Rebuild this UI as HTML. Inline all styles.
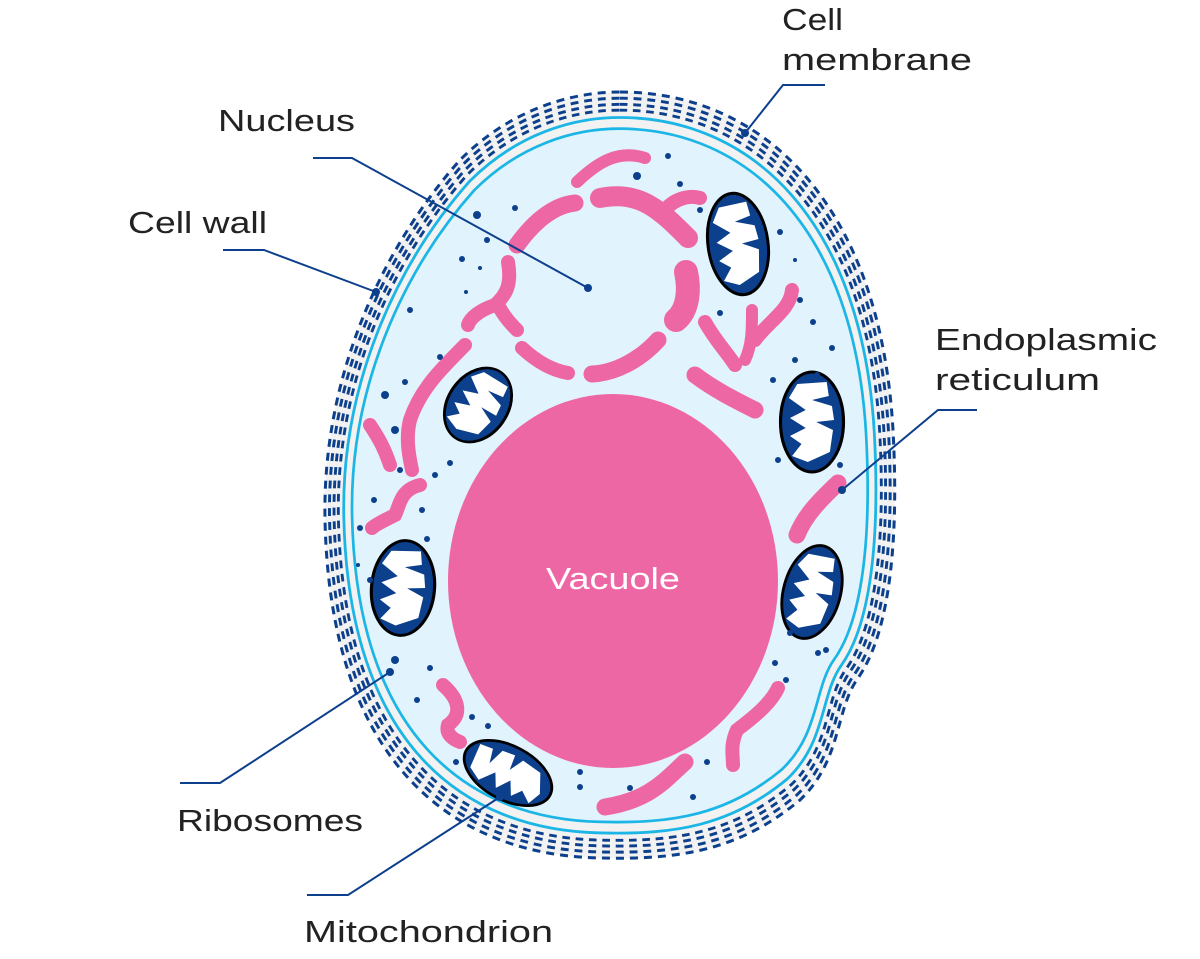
<!DOCTYPE html>
<html><head><meta charset="utf-8"><style>
html,body{margin:0;padding:0;background:#fff;}
svg{display:block;}
text{font-family:"Liberation Sans",sans-serif;font-size:31px;fill:#222;}
</style></head><body>
<svg width="1200" height="959" viewBox="0 0 1200 959" xmlns="http://www.w3.org/2000/svg">
<defs>
<path id="cell" d="M 620 92 C 760 92, 880 200, 893 430 C 900 560, 885 640, 858 678 C 835 710, 842 760, 800 800 C 740 850, 680 860, 600 858 C 450 855, 330 760, 325 520 C 322 380, 380 250, 460 160 C 510 110, 570 92, 620 92 Z"/>
<g id="mito">
<ellipse cx="0" cy="0" rx="30" ry="50" fill="#0c3f8c" stroke="#000" stroke-width="3"/>
<path d="M -14 -38 L 14 -40 L 16 -26 L 0 -22 L 19 -16 L 21 -2 L 4 0 L 20 8 L 17 30 L -4 40 L -19 34 L -10 22 L -21 14 L -6 6 L -21 -4 L -6 -12 L -22 -24 Z" fill="#fff"/>
</g>
</defs>
<use href="#cell" fill="#f2f2f2"/>
<g fill="none" stroke="#0c3f8c" stroke-width="3" stroke-dasharray="8 6">
<use href="#cell"/>
<use href="#cell" transform="translate(610 478) scale(.984) translate(-610 -478)"/>
<use href="#cell" transform="translate(610 478) scale(.968) translate(-610 -478)"/>
<use href="#cell" transform="translate(610 478) scale(.953) translate(-610 -478)"/>
</g>
<use href="#cell" fill="none" stroke="#1bb6e6" stroke-width="3" transform="translate(610 478) scale(.934) translate(-610 -478)"/>
<use href="#cell" fill="#e1f3fc" stroke="#1bb6e6" stroke-width="3" transform="translate(610 478) scale(.905) translate(-610 -478)"/>
<ellipse cx="613" cy="581" rx="165" ry="187" fill="#ee67a5"/>
<text x="546" y="589" textLength="134" lengthAdjust="spacingAndGlyphs" style="fill:#fff">Vacuole</text>
<g fill="none" stroke="#ee67a5" stroke-linecap="round">
<path d="M 577 182 C 600 160, 620 150, 645 158" stroke-width="12"/>
<path d="M 600 198 C 640 190, 660 210, 688 238" stroke-width="20"/>
<path d="M 665 210 C 675 198, 690 195, 700 198" stroke-width="14"/>
<path d="M 517 245 C 535 220, 555 205, 575 203" stroke-width="17"/>
<path d="M 508 262 C 512 285, 506 295, 495 305 C 480 310, 470 318, 468 325" stroke-width="14"/>
<path d="M 498 305 C 505 318, 512 325, 517 330" stroke-width="14"/>
<path d="M 522 348 C 535 360, 550 370, 568 373" stroke-width="14"/>
<path d="M 592 374 C 615 373, 640 360, 658 340" stroke-width="17"/>
<path d="M 686 272 C 690 290, 688 310, 676 320" stroke-width="24"/>
<path d="M 705 322 C 715 340, 725 350, 735 365" stroke-width="14"/>
<path d="M 695 375 C 715 390, 735 400, 755 410" stroke-width="17"/>
<path d="M 752 310 C 752 330, 752 345, 745 360" stroke-width="12"/>
<path d="M 755 340 C 770 320, 790 310, 792 290" stroke-width="14"/>
<path d="M 465 345 C 440 370, 420 390, 410 420 C 405 440, 410 460, 412 470" stroke-width="14"/>
<path d="M 370 425 C 380 440, 385 450, 390 465" stroke-width="14"/>
<path d="M 420 485 C 400 490, 400 505, 395 515 C 385 520, 375 525, 372 528" stroke-width="14"/>
<path d="M 443 685 C 460 700, 462 715, 448 725 C 445 735, 455 740, 460 742" stroke-width="14"/>
<path d="M 685 762 C 665 780, 650 800, 605 807" stroke-width="17"/>
<path d="M 778 688 C 770 705, 750 720, 737 730 C 730 745, 733 755, 733 765" stroke-width="14"/>
<path d="M 838 483 C 820 500, 805 515, 797 535" stroke-width="17"/>
</g>
<use href="#mito" transform="translate(738 244) rotate(-8) scale(1 1.02)"/>
<use href="#mito" transform="translate(812 422) scale(1.05 1)"/>
<use href="#mito" transform="translate(478 405) rotate(35) scale(1 .8)"/>
<use href="#mito" transform="translate(403 588) rotate(5) scale(1.05 .95)"/>
<use href="#mito" transform="translate(508 773) rotate(-62) scale(.9 .95)"/>
<use href="#mito" transform="translate(812 592) rotate(15) scale(.95 .95)"/>
<g fill="#0c3f8c">
<circle cx="637" cy="176" r="4"/><circle cx="668" cy="156" r="3"/><circle cx="477" cy="215" r="4"/><circle cx="515" cy="208" r="3"/>
<circle cx="487" cy="240" r="3"/><circle cx="462" cy="259" r="3"/><circle cx="480" cy="268" r="2"/><circle cx="466" cy="292" r="2"/>
<circle cx="410" cy="310" r="3"/><circle cx="440" cy="357" r="3"/><circle cx="385" cy="395" r="4"/><circle cx="405" cy="382" r="3"/>
<circle cx="395" cy="430" r="4"/><circle cx="450" cy="463" r="3"/><circle cx="435" cy="475" r="3"/><circle cx="400" cy="470" r="3"/>
<circle cx="360" cy="528" r="3"/><circle cx="374" cy="500" r="3"/><circle cx="427" cy="539" r="3"/><circle cx="422" cy="510" r="3"/>
<circle cx="370" cy="580" r="3"/><circle cx="358" cy="565" r="2"/><circle cx="395" cy="660" r="4"/><circle cx="430" cy="668" r="3"/>
<circle cx="417" cy="700" r="3"/><circle cx="472" cy="717" r="3"/><circle cx="488" cy="726" r="3"/><circle cx="456" cy="762" r="3"/>
<circle cx="580" cy="772" r="3"/><circle cx="580" cy="787" r="3"/><circle cx="630" cy="788" r="3"/><circle cx="693" cy="797" r="3"/>
<circle cx="707" cy="762" r="3"/><circle cx="775" cy="663" r="3"/><circle cx="786" cy="680" r="3"/><circle cx="790" cy="633" r="3"/>
<circle cx="818" cy="653" r="3"/><circle cx="826" cy="650" r="3"/><circle cx="840" cy="465" r="3"/><circle cx="778" cy="460" r="3"/>
<circle cx="817" cy="375" r="3"/><circle cx="832" cy="348" r="3"/><circle cx="800" cy="300" r="3"/><circle cx="813" cy="322" r="3"/>
<circle cx="795" cy="260" r="2"/><circle cx="780" cy="232" r="3"/><circle cx="720" cy="313" r="3"/><circle cx="755" cy="280" r="3"/>
<circle cx="700" cy="210" r="3"/><circle cx="680" cy="184" r="3"/><circle cx="795" cy="360" r="3"/><circle cx="773" cy="380" r="3"/>
</g>
<g fill="none" stroke="#0c3f8c" stroke-width="2">
<polyline points="825,85 783,85 745,133"/>
<polyline points="313,158 352,158 588,288"/>
<polyline points="223,250 264,250 376,292"/>
<polyline points="977,410 938,410 842,490"/>
<polyline points="180,783 220,783 390,672"/>
<polyline points="307,895 348,895 500,797"/>
</g>
<g fill="#0c3f8c">
<circle cx="745" cy="133" r="4"/><circle cx="588" cy="288" r="4"/><circle cx="376" cy="292" r="4"/>
<circle cx="842" cy="490" r="4"/><circle cx="390" cy="672" r="4"/><circle cx="500" cy="797" r="4"/>
</g>
<text x="782" y="30" textLength="61" lengthAdjust="spacingAndGlyphs">Cell</text>
<text x="782" y="70" textLength="190" lengthAdjust="spacingAndGlyphs">membrane</text>
<text x="218" y="131" textLength="137" lengthAdjust="spacingAndGlyphs">Nucleus</text>
<text x="128" y="233" textLength="139" lengthAdjust="spacingAndGlyphs">Cell wall</text>
<text x="935" y="350" textLength="222" lengthAdjust="spacingAndGlyphs">Endoplasmic</text>
<text x="935" y="390" textLength="165" lengthAdjust="spacingAndGlyphs">reticulum</text>
<text x="177" y="831" textLength="186" lengthAdjust="spacingAndGlyphs">Ribosomes</text>
<text x="304" y="942" textLength="249" lengthAdjust="spacingAndGlyphs">Mitochondrion</text>
</svg>
</body></html>
